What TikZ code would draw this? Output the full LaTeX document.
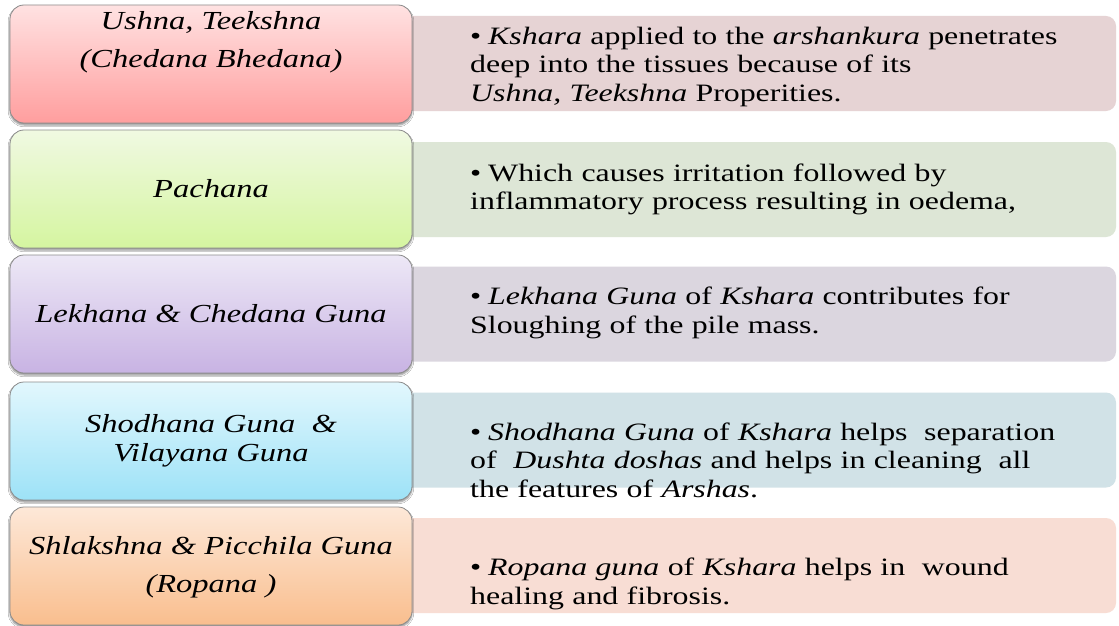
\documentclass[tikz,border=0pt]{standalone}
\usepackage{fontspec}
\usepackage{xcolor}
\usepackage{tikz}
\usetikzlibrary{positioning,shadows.blur}
\newfontfamily\slidefont[FakeStretch=1.25]{Liberation Serif}
\newfontfamily\bandfont[FakeStretch=1.275]{Liberation Serif}
\newcommand{\gunafont}{\slidefont\itshape\fontsize{26}{38}\selectfont}
\newcommand{\descfont}{\bandfont\fontsize{25}{28.5}\selectfont}
\newcommand{\bulitem}[1]{\hangindent=18pt\hangafter=1\noindent\makebox[18pt][l]{\textbullet}#1}

\definecolor{pinktop}{RGB}{255,226,226}   \definecolor{pinkbot}{RGB}{255,158,158}
\definecolor{greentop}{RGB}{240,249,226}  \definecolor{greenbot}{RGB}{213,245,160}
\definecolor{purptop}{RGB}{237,232,246}   \definecolor{purpbot}{RGB}{200,179,227}
\definecolor{cyantop}{RGB}{226,247,253}   \definecolor{cyanbot}{RGB}{157,226,247}
\definecolor{orgtop}{RGB}{253,232,216}    \definecolor{orgbot}{RGB}{249,190,142}
\definecolor{pinkbg}{RGB}{230,211,212}
\definecolor{greenbg}{RGB}{221,230,214}
\definecolor{purpbg}{RGB}{219,214,223}
\definecolor{cyanbg}{RGB}{209,226,231}
\definecolor{orgbg}{RGB}{248,221,212}

\tikzset{
  gunabox/.style  ={draw=black!45,line width=0.8pt,rounded corners=14pt,
                    minimum width=402pt,minimum height=118pt,inner sep=0pt,
                    blur shadow={shadow xshift=0pt,shadow yshift=-2pt,
                                 shadow blur steps=5,shadow opacity=45}},
  descbox/.style  ={rounded corners=10pt,minimum width=726pt,
                    minimum height=95pt,inner sep=0pt},
  gunatext/.style ={align=center,font=\gunafont,inner sep=0pt},
  desctext/.style ={anchor=west,text width=640pt,align=left,
                    font=\descfont,inner sep=0pt},
}

\begin{document}
\begin{tikzpicture}[x=1pt,y=-1pt]
\useasboundingbox[fill=white] (0,0) rectangle (1119,626);

% description bands (behind)
\node[descbox,fill=pinkbg]  (db1) at (753,63.5)  {};
\node[descbox,fill=greenbg] (db2) at (753,189.5) {};
\node[descbox,fill=purpbg]  (db3) at (753,314)   {};
\node[descbox,fill=cyanbg]  (db4) at (753,440)   {};
\node[descbox,fill=orgbg]   (db5) at (753,565.5) {};

% guna boxes
\node[gunabox,top color=pinktop,bottom color=pinkbot]   (gb1) at (211,64)    {};
\node[gunabox,top color=greentop,bottom color=greenbot] (gb2) at (211,189)   {};
\node[gunabox,top color=purptop,bottom color=purpbot]   (gb3) at (211,314)   {};
\node[gunabox,top color=cyantop,bottom color=cyanbot]   (gb4) at (211,441)   {};
\node[gunabox,top color=orgtop,bottom color=orgbot]     (gb5) at (211,566)   {};

% guna labels
\node[gunatext] (gt1) at ([yshift=22pt]gb1.center) {Ushna, Teekshna\\(Chedana Bhedana)};
\node[gunatext] (gt2) at (gb2.center) {Pachana};
\node[gunatext] (gt3) at (gb3.center) {Lekhana \& Chedana Guna};
\node[gunatext] (gt4) at (gb4.center) {Shodhana Guna\ \ \&\\[-9pt]Vilayana Guna};
\node[gunatext] (gt5) at ([yshift=-1pt]gb5.center) {Shlakshna \& Picchila Guna\\(Ropana )};

% descriptions
\node[desctext] (dt1) at (470,66.5) {\bulitem{\emph{Kshara} applied to the \emph{arshankura} penetrates\\
  deep into the tissues because of its\\ \emph{Ushna, Teekshna} Properities.}};
\node[desctext] (dt2) at (470,189.5) {\bulitem{Which causes irritation followed by\\
  inflammatory process resulting in oedema,}};
\node[desctext] (dt3) at (470,313) {\bulitem{\emph{Lekhana Guna} of \emph{Kshara} contributes for\\
  Sloughing of the pile mass.}};
\node[desctext] (dt4) at (470,460) {\bulitem{\emph{Shodhana Guna} of \emph{Kshara} helps\ \ separation\\
  of\ \ \emph{Dushta doshas} and helps in cleaning\ \ all\\ the features of \emph{Arshas}.}};
\node[desctext] (dt5) at (470,584) {\bulitem{\emph{Ropana guna} of \emph{Kshara} helps in\ \ wound\\
  healing and fibrosis.}};

\end{tikzpicture}
\end{document}
